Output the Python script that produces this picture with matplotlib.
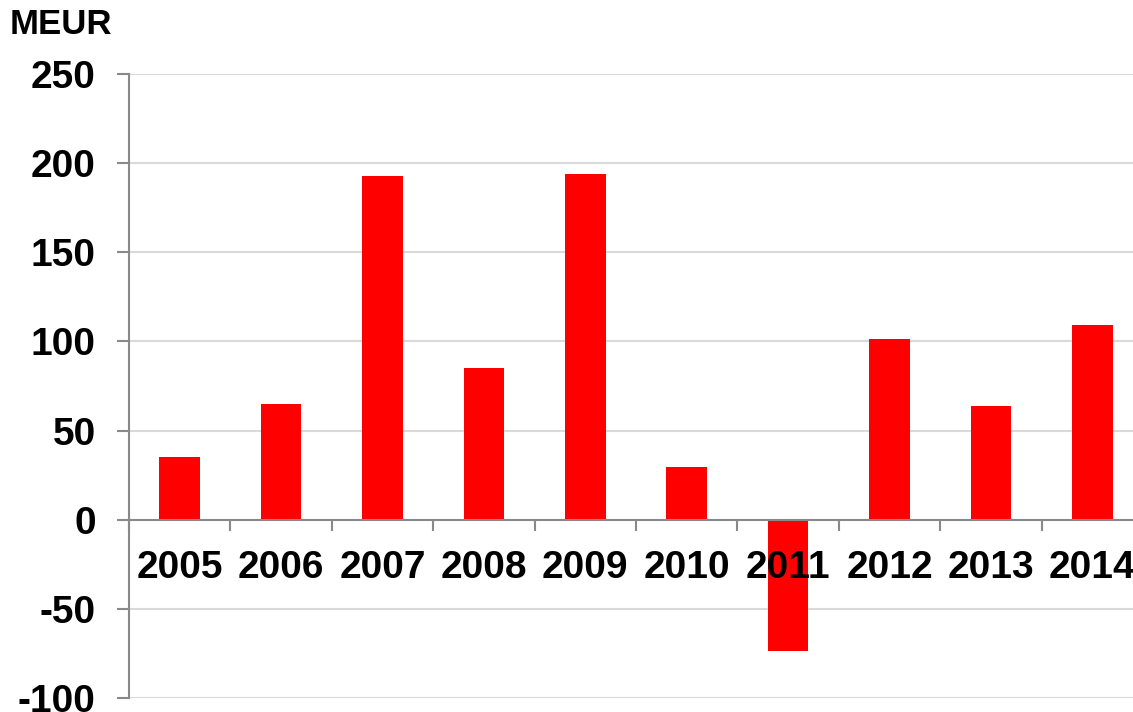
import matplotlib
matplotlib.use("Agg")
import matplotlib.pyplot as plt
import numpy as np

years = ["2005", "2006", "2007", "2008", "2009", "2010", "2011", "2012", "2013", "2014"]
values = [35.2, 65.0, 192.7, 85.1, 193.8, 29.6, -73.6, 101.3, 63.8, 109.2]
yticks = [-100, -50, 0, 50, 100, 150, 200, 250]
unit_label = "MEUR"

W, H = 1133, 712
fig = plt.figure(figsize=(W / 100, H / 100), dpi=100)
left, right, top, bottom = 129, 1143, 74, 698
ax = fig.add_axes([left / W, (H - bottom) / H, (right - left) / W, (bottom - top) / H])

font = "Liberation Sans"
x = np.arange(len(years))
ax.bar(x, values, width=0.4, color="#FF0000", zorder=1)

for v in yticks:
    if v != 0:
        ax.axhline(v, color="#d9d9d9", lw=1.5, zorder=0)

ax.set_xlim(-0.5, len(years) - 0.5)
ax.set_ylim(min(yticks), max(yticks))

for s in ["top", "right"]:
    ax.spines[s].set_visible(False)
ax.spines["left"].set_color("#898989")
ax.spines["left"].set_linewidth(1.5)
ax.spines["bottom"].set_position(("data", 0))
ax.spines["bottom"].set_color("#898989")
ax.spines["bottom"].set_linewidth(1.5)

ax.set_yticks(yticks)
ax.set_yticklabels([str(v) for v in yticks], fontsize=28, fontweight="bold", family=font)
ax.tick_params(axis="y", direction="out", length=9, width=1.5, color="#898989", pad=15)

ax.set_xticks(np.arange(len(years) + 1) - 0.5)
ax.set_xticklabels([])
ax.tick_params(axis="x", which="major", direction="out", length=8, width=1.5, color="#898989")
ax.set_xticks(x, minor=True)
ax.set_xticklabels(years, minor=True, fontsize=28, fontweight="bold", family=font)
ax.tick_params(axis="x", which="minor", length=0, pad=22)

fig.text(10 / W, 1 - 24 / H, unit_label, fontsize=25, fontweight="bold", family=font,
         va="center", ha="left")

fig.savefig("out.png", dpi=100)
